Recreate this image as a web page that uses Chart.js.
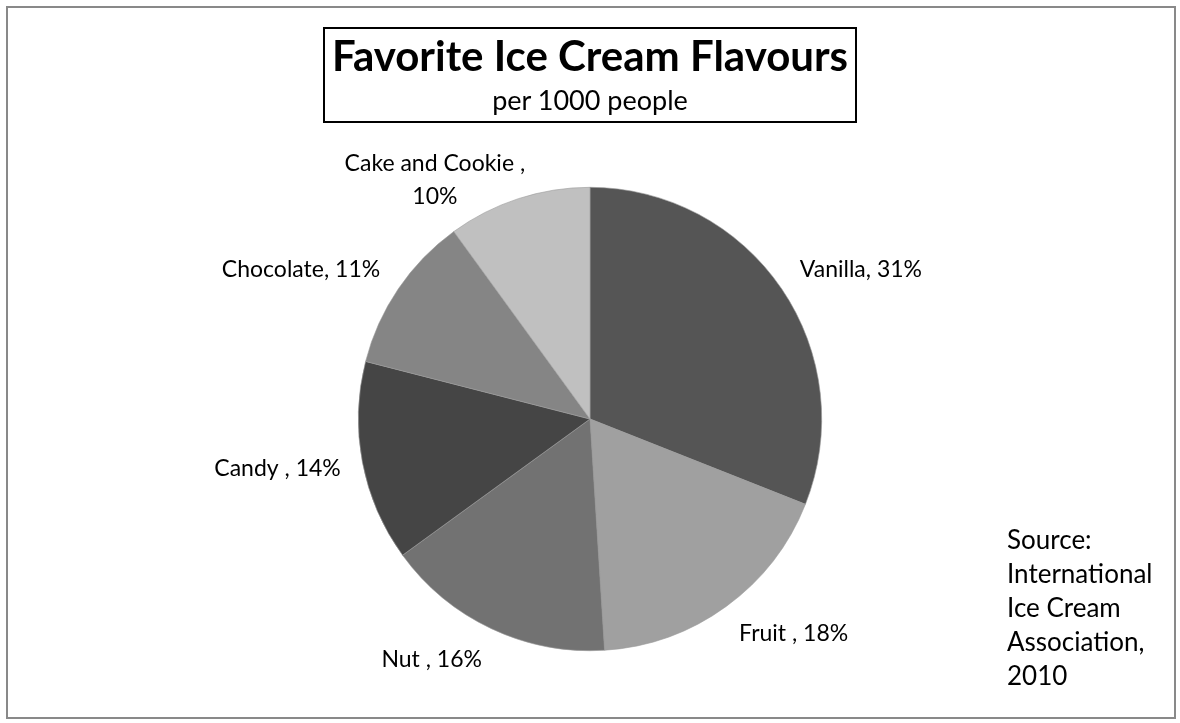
<!DOCTYPE html>
<html>
<head>
<meta charset="utf-8">
<title>Favorite Ice Cream Flavours</title>
<script src="https://cdn.jsdelivr.net/npm/chart.js@4"></script>
<style>
  html, body { margin: 0; padding: 0; background: #fff; }
  body { width: 1180px; height: 723px; position: relative; overflow: hidden;
         font-family: Lato, 'Open Sans', sans-serif; color: #000; }
  .frame { position: absolute; left: 6px; top: 6px; width: 1166px; height: 709px;
           border: 2px solid #898989; box-sizing: content-box; }
  .chart-wrap { position: absolute; left: 0; top: 0; width: 1180px; height: 723px; }
  .title-box { position: absolute; left: 323px; top: 27px; width: 530px; height: 92px;
               border: 2px solid #000; text-align: center; }
  .title-box h1 { margin: 3px 0 0; font-size: 42px; font-weight: 700; line-height: 46px; }
  .title-box p { margin: 6px 0 0; font-size: 27px; line-height: 32px; }
  .source { position: absolute; left: 1007px; top: 522px; font-size: 26px; line-height: 34px; }
</style>
</head>
<body>
<div class="frame"></div>
<div class="chart-wrap"><canvas id="pie"></canvas></div>
<div class="title-box">
  <h1>Favorite Ice Cream Flavours</h1>
  <p>per 1000 people</p>
</div>
<div class="source">Source:<br>International<br>Ice Cream<br>Association,<br>2010</div>
<script>
// ---- Data -------------------------------------------------
const FLAVOURS = ['Vanilla', 'Fruit ', 'Nut ', 'Candy ', 'Chocolate', 'Cake and Cookie '];
const SHARES   = [31, 18, 16, 14, 11, 10];
const SHADES   = ['#555555', '#a0a0a0', '#727272', '#454545', '#858585', '#c0c0c0'];

const LABEL_FONT = "23px Lato, 'Open Sans', sans-serif";
const LABEL_GAP = 22;
const LINE_H = 33;
const WRAP_AT = 185;

// Excel-style "outside end" labels, placed from each arc's geometry.
// Wrapped (two-line) labels sit a little lower, hugging the rim.
const outsideLabels = {
  id: 'outsideLabels',
  afterDatasetsDraw(chart) {
    const ctx = chart.ctx;
    const arcs = chart.getDatasetMeta(0).data;
    ctx.save();
    ctx.font = LABEL_FONT;
    ctx.fillStyle = '#000';
    ctx.textBaseline = 'middle';
    ctx.textAlign = 'center';
    arcs.forEach((arc, i) => {
      const text = FLAVOURS[i] + ', ' + SHARES[i] + '%';
      let lines = [text];
      if (ctx.measureText(text).width > WRAP_AT) {
        lines = [FLAVOURS[i] + ',', SHARES[i] + '%'];
      }
      const w = Math.max(...lines.map(l => ctx.measureText(l).width));
      const mid = (arc.startAngle + arc.endAngle) / 2;
      const r = arc.outerRadius + LABEL_GAP;
      const ax = arc.x + Math.cos(mid) * r;
      const ay = arc.y + Math.sin(mid) * r;
      const cx = ax + Math.sign(Math.cos(mid)) * w / 2 * (lines.length > 1 ? 0.85 : 1);
      const cy = ay + Math.sin(mid) * (lines.length > 1 ? -2 : 12);
      lines.forEach((l, k) => {
        ctx.fillText(l, cx, cy - (lines.length - 1) * LINE_H / 2 + k * LINE_H);
      });
    });
    ctx.restore();
  }
};

new Chart(document.getElementById('pie'), {
  type: 'pie',
  data: {
    labels: FLAVOURS,
    datasets: [{
      data: SHARES,
      backgroundColor: SHADES,
      borderColor: '#9a9a9a',
      borderWidth: 0.6
    }]
  },
  options: {
    responsive: true,
    maintainAspectRatio: false,
    animation: false,
    layout: { padding: { left: 358, right: 358, top: 187, bottom: 72 } },
    plugins: {
      legend: { display: false },
      tooltip: { enabled: false }
    }
  },
  plugins: [outsideLabels]
});
</script>
</body>
</html>
